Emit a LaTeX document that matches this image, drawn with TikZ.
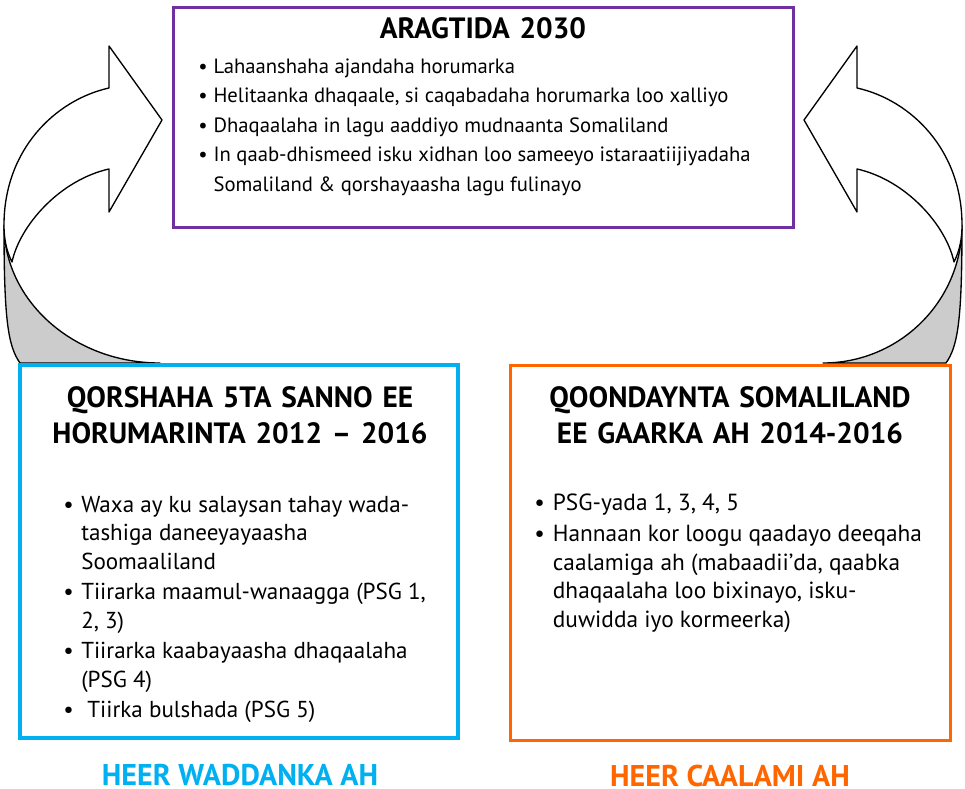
\documentclass[tikz,border=0pt]{standalone}
\usepackage{fontspec}
\setmainfont{PT Sans}
\usepackage{xcolor}
\usepackage{tikz}
\definecolor{visionpurple}{HTML}{7030A0}
\definecolor{localblue}{HTML}{00B0F0}
\definecolor{globalorange}{HTML}{FF6600}
\definecolor{backgray}{HTML}{CCCCCC}
\newlength{\bulind}
\newcommand{\bitem}{\makebox[\bulind][l]{\textbullet}&}

\begin{document}
\begin{tikzpicture}[
        x=0.75pt, y=-0.75pt,
        box/.style={draw, fill=white, inner sep=0pt},
        boxtitle/.style={font=\fontsize{22}{27}\selectfont\bfseries, text width=340pt, align=center, inner sep=0pt, anchor=base},
        bullets/.style={font=#1\selectfont, inner sep=0pt, anchor=base west},
        heer/.style={font=\fontsize{22.5}{26}\selectfont\bfseries, inner sep=0pt, anchor=base},
        arrowline/.style={draw=black, line width=1pt, line join=round}
    ]

    \useasboundingbox (0,0) rectangle (965,789);

    %=== Curved arrow macro ===%
    \newcommand{\bentarrow}[3]{
        % #1 shift, #2 mirror, #3 end of the bottom curve
        \begin{scope}[shift={(#1,0)}, xscale=#2]
            \filldraw[arrowline, fill=backgray]
                (4,225) .. controls (4,320) and (8,346) .. (20,363)
                -- (#3,363) .. controls ({#3-0.552*(#3-4)},363) and (4,301) .. cycle;
            \filldraw[arrowline, fill=white]
                (4,225) .. controls (4,150) and (55,100) .. (109,88)
                -- (109,46) -- (162,120) -- (109,212) -- (109,169)
                .. controls (60,180) and (20,225) .. (12,262)
                .. controls (6,250) and (4,238) .. cycle;
        \end{scope}
    }

    \bentarrow{0}{1}{160}
    \bentarrow{966}{-1}{143}

    %=== Boxes ===%
    \node[box, draw=visionpurple, line width=2.25pt, minimum width=465pt, minimum height=165pt] (vision) at (483,117) {};
    \node[box, draw=localblue, line width=2.5pt, minimum width=328.5pt, minimum height=279.75pt] (national) at (239,551.5) {};
    \node[box, draw=globalorange, line width=2.25pt, minimum width=330pt, minimum height=281.25pt] (global) at (730,552.5) {};

    %=== Titles ===%
    \node[boxtitle] (vision title) at (483,38) {ARAGTIDA 2030};
    \node[boxtitle] (national title) at (240,407) {QORSHAHA 5TA SANNO EE\\HORUMARINTA 2012 – 2016};
    \node[boxtitle] (global title) at (730,407) {QOONDAYNTA SOMALILAND\\EE GAARKA AH 2014-2016};

    %=== Bullet lists ===%
    \node[bullets={\fontsize{15.5}{22.2}}, execute at begin node={\setlength{\bulind}{11.5pt}}] (vision list) at (198,73) {%
        \begin{tabular}[t]{@{}l@{}l@{}}
            \bitem Lahaanshaha ajandaha horumarka\\
            \bitem Helitaanka dhaqaale, si caqabadaha horumarka loo xalliyo\\
            \bitem Dhaqaalaha in lagu aaddiyo mudnaanta Somaliland\\
            \bitem In qaab-dhismeed isku xidhan loo sameeyo istaraatiijiyadaha\\
                   & Somaliland \& qorshayaasha lagu fulinayo
        \end{tabular}};

    \node[bullets={\fontsize{17.3}{21.4}}, execute at begin node={\setlength{\bulind}{13.5pt}}] (national list) at (63,512) {%
        \begin{tabular}[t]{@{}l@{}l@{}}
            \bitem Waxa ay ku salaysan tahay wada-\\
                   & tashiga daneeyayaasha\\
                   & Soomaaliland\\[1.5pt]
            \bitem Tiirarka maamul-wanaagga (PSG 1,\\
                   & 2, 3)\\[1.5pt]
            \bitem Tiirarka kaabayaasha dhaqaalaha\\
                   & (PSG 4)\\[1.5pt]
            \bitem \ Tiirka bulshada (PSG 5)
        \end{tabular}};

    \node[bullets={\fontsize{17.5}{21.4}}, execute at begin node={\setlength{\bulind}{14pt}}] (global list) at (534,510) {%
        \begin{tabular}[t]{@{}l@{}l@{}}
            \bitem PSG-yada 1, 3, 4, 5\\[2.5pt]
            \bitem Hannaan kor loogu qaadayo deeqaha\\
                   & caalamiga ah (mabaadii’da, qaabka\\
                   & dhaqaalaha loo bixinayo, isku-\\
                   & duwidda iyo kormeerka)
        \end{tabular}};

    %=== Level labels ===%
    \node[heer, text=localblue] (national label) at (240,785) {HEER WADDANKA AH};
    \node[heer, text=globalorange] (global label) at (730,786) {HEER CAALAMI AH};
\end{tikzpicture}
\end{document}
